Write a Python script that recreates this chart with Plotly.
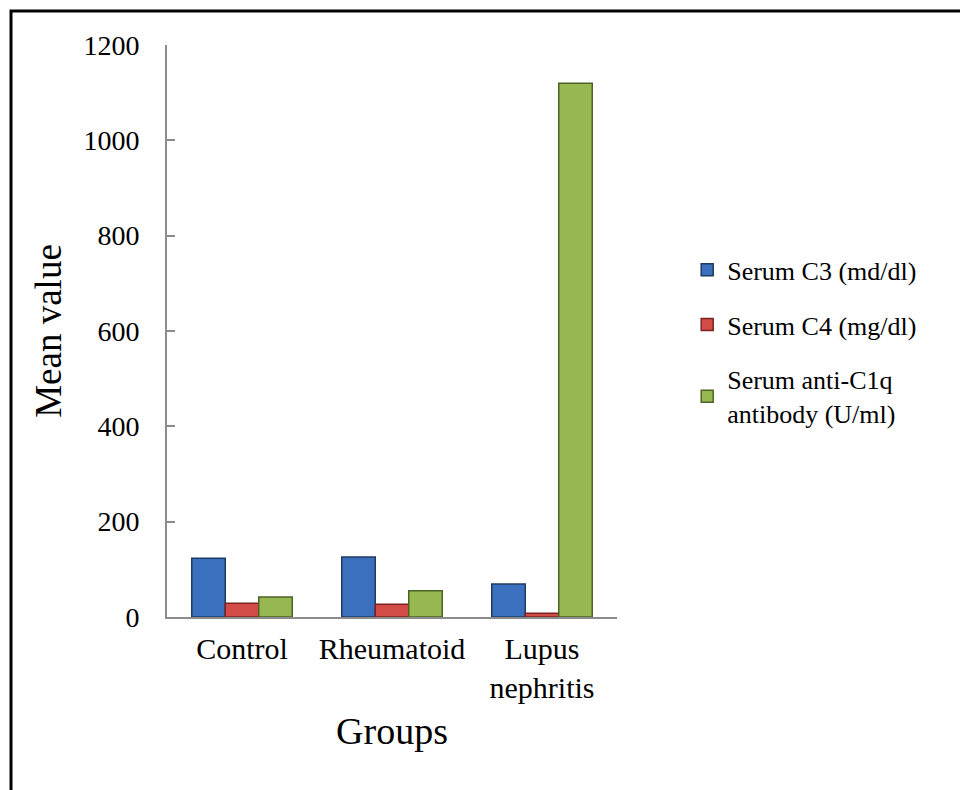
import plotly.graph_objects as go

groups = ["Control", "Rheumatoid", "Lupus<br>nephritis"]
series_names = ["Serum C3 (md/dl)", "Serum C4 (mg/dl)", "Serum anti-C1q<br>antibody (U/ml)"]
c3 = [123, 126, 69]
c4 = [29, 27, 8]
anti_c1q = [42, 55, 1120]
y_ticks = [0, 200, 400, 600, 800, 1000, 1200]

colors = ["#3a70bd", "#d34b47", "#97b850"]
edges = ["#1f3a63", "#7a2422", "#4d6326"]

FONT = "Liberation Serif"

# figure-pixel geometry (page has an 8px body offset)
L, T, R, B = 159, 37, 609, 609

fig = go.Figure()
for i, (name, vals) in enumerate(zip(series_names, [c3, c4, anti_c1q])):
    fig.add_trace(go.Bar(
        x=groups, y=vals, name=name,
        legendgroup=str(i),
        marker=dict(color=colors[i], line=dict(color=edges[i], width=1.5)),
    ))

fig.update_layout(
    width=968, height=790,
    margin=dict(l=L, r=968 - R, t=T, b=790 - B, autoexpand=False),
    paper_bgcolor="white", plot_bgcolor="white",
    barmode="group", bargap=0.33, bargroupgap=0,
    font=dict(family=FONT, color="black"),
    showlegend=True,
    legend=dict(
        x=1.156, y=0.648, xanchor="left", yanchor="top",
        font=dict(size=26, family=FONT, color="black"),
        tracegroupgap=18, itemwidth=30,
        bgcolor="rgba(0,0,0,0)",
    ),
    xaxis=dict(
        showline=True, linecolor="#8c8c8c", linewidth=2,
        ticks="", tickfont=dict(size=30, family=FONT), ticklabelstandoff=4,
        title=dict(text="Groups", font=dict(size=38, family=FONT), standoff=14),
        showgrid=False,
    ),
    yaxis=dict(
        range=[0, 1200], tickvals=y_ticks,
        showline=True, linecolor="#8c8c8c", linewidth=2,
        ticks="inside", ticklen=8, tickcolor="#8c8c8c", tickwidth=2,
        tickfont=dict(size=28, family=FONT), ticklabelstandoff=20,
        title=dict(text="Mean value", font=dict(size=37, family=FONT), standoff=10),
        showgrid=False, zeroline=False,
    ),
    shapes=[dict(
        type="rect", xref="paper", yref="paper",
        x0=(3 - L) / (R - L), x1=(1000 - L) / (R - L),
        y0=(B - 830) / (B - T), y1=(B - 3) / (B - T),
        line=dict(color="black", width=3), fillcolor="rgba(0,0,0,0)", layer="below",
    )],
)

fig.write_html("out.html")
